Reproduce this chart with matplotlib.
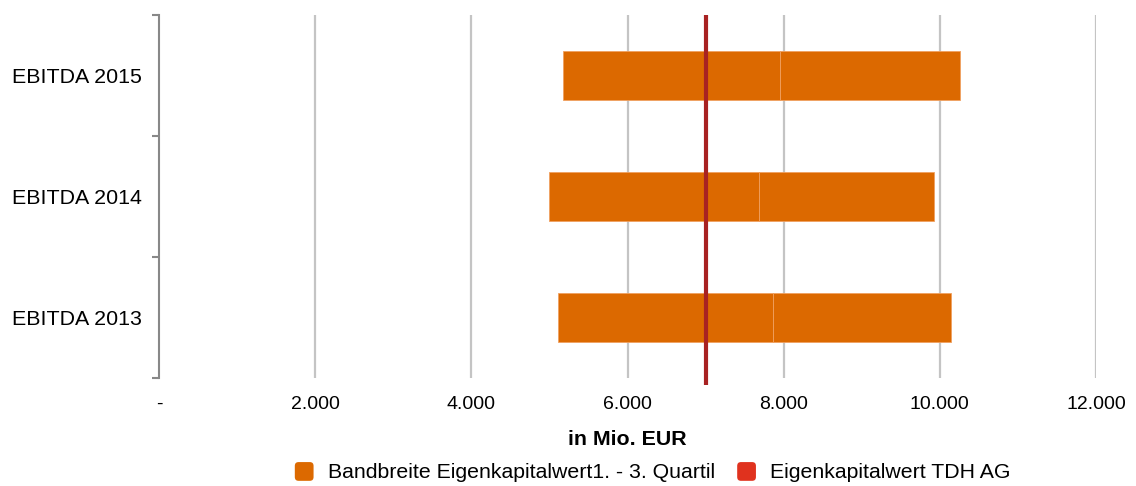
import matplotlib
matplotlib.use("Agg")
import matplotlib.pyplot as plt
from matplotlib.patches import FancyBboxPatch
from matplotlib.legend_handler import HandlerPatch
import matplotlib.patches as mpatches

plt.rcParams['font.family'] = ['Liberation Sans', 'DejaVu Sans']

categories = ["EBITDA 2013", "EBITDA 2014", "EBITDA 2015"]
q1 = [5110, 4990, 5170]
median = [7860, 7680, 7950]
q3 = [10145, 9925, 10260]
equity_value = 7000
xticks = [0, 2000, 4000, 6000, 8000, 10000, 12000]
xticklabels = ["-", "2.000", "4.000", "6.000", "8.000", "10.000", "12.000"]
xlabel = "in Mio. EUR"
legend_labels = ["Bandbreite Eigenkapitalwert1. - 3. Quartil", "Eigenkapitalwert TDH AG"]

orange = "#dc6900"
edge = "#f0a060"
red_line = "#a82222"
red_legend = "#e0321e"

fig = plt.figure(figsize=(11.36, 4.86), dpi=100)
ax = fig.add_axes([159/1136, 1-378/486, (1096-159)/1136, (378-15)/486])

y = list(range(len(categories)))
h = 0.4
seg1 = [m - a for m, a in zip(median, q1)]
seg2 = [b - m for b, m in zip(q3, median)]
ax.barh(y, seg1, left=q1, height=h, color=orange, edgecolor=edge, linewidth=0.6, zorder=2)
ax.barh(y, seg2, left=median, height=h, color=orange, edgecolor=edge, linewidth=0.6, zorder=2)

ax.axvline(equity_value, ymin=-0.02, ymax=1.0, color=red_line, linewidth=3, zorder=3,
           clip_on=False, solid_capstyle="butt")

ax.set_xlim(0, 12000)
ax.set_ylim(-0.5, len(categories) - 0.5)
ax.set_xticks(xticks)
ax.set_xticklabels(xticklabels, fontsize=14)
ax.set_yticks(y)
ax.set_yticklabels(categories, fontsize=15.4)
ax.set_yticks([i - 0.5 for i in range(len(categories) + 1)], minor=True)
ax.tick_params(axis='y', which='major', length=0, pad=12)
ax.tick_params(axis='y', which='minor', length=5, color="#888888", width=1.5)
ax.tick_params(axis='x', length=0, pad=13)

for xv in xticks[1:]:
    ax.axvline(xv, color="#c4c4c4", linewidth=1.6, zorder=1)

for s in ["top", "right", "bottom"]:
    ax.spines[s].set_visible(False)
ax.spines["left"].set_color("#888888")
ax.spines["left"].set_linewidth(1.5)

ax.set_xlabel(xlabel, fontsize=15.4, fontweight="bold", labelpad=12)


class RoundHandler(HandlerPatch):
    def create_artists(self, legend, orig_handle, xdescent, ydescent, width, height, fontsize, trans):
        s = 13.5
        p = FancyBboxPatch((-xdescent + (width - s) / 2, -ydescent + (height - s) / 2 - 1), s, s,
                           boxstyle="round,pad=0,rounding_size=%f" % (s * 0.2),
                           facecolor=orig_handle.get_facecolor(), edgecolor="none", transform=trans)
        return [p]

handles = [mpatches.Patch(color=orange), mpatches.Patch(color=red_legend)]
fig.legend(handles, legend_labels, loc="center", bbox_to_anchor=(652/1136, 1-472/486), ncol=2,
           frameon=False, fontsize=15.3, handler_map={mpatches.Patch: RoundHandler()},
           handlelength=1.0, handletextpad=0.6, columnspacing=1.0)

fig.savefig("out.png", dpi=100)
